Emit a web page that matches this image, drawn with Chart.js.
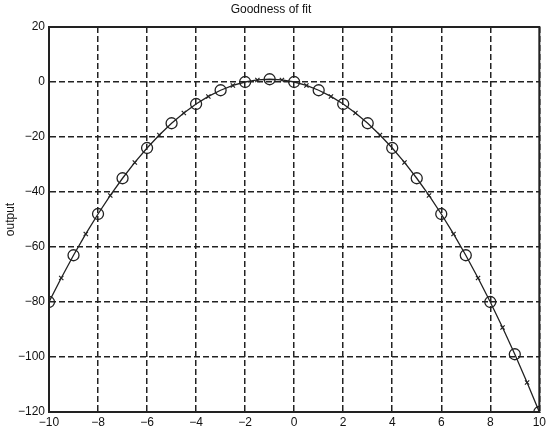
<!DOCTYPE html>
<html>
<head>
<meta charset="utf-8">
<script src="https://cdn.jsdelivr.net/npm/chart.js@4"></script>
<style>
  html, body { margin: 0; padding: 0; background: #fff; }
  #wrap { width: 549px; height: 432px; }
</style>
</head>
<body>
<div id="wrap"><canvas id="fitChart" width="549" height="432"></canvas></div>
<script>
// sample points (circles) at whole x
const xData = [-10, -9, -8, -7, -6, -5, -4, -3, -2, -1, 0, 1, 2, 3, 4, 5, 6, 7, 8, 9, 10];
const yData = [-80, -63, -48, -35, -24, -15, -8, -3, 0, 1, 0, -3, -8, -15, -24, -35, -48, -63, -80, -99, -120];

// fitted points (crosses) in between
const xFit = [-9.5, -8.5, -7.5, -6.5, -5.5, -4.5, -3.5, -2.5, -1.5, -0.5, 0.5, 1.5, 2.5, 3.5, 4.5, 5.5, 6.5, 7.5, 8.5, 9.5];
const yFit = [-71.25, -55.25, -41.25, -29.25, -19.25, -11.25, -5.25, -1.25, 0.75, 0.75, -1.25, -5.25, -11.25, -19.25, -29.25, -41.25, -55.25, -71.25, -89.25, -109.25];

const xTicks = [-10, -8, -6, -4, -2, 0, 2, 4, 6, 8, 10];
const yTicks = [-120, -100, -80, -60, -40, -20, 0, 20];

const dataPts = xData.map((x, i) => ({ x: x, y: yData[i] }));
const fitPts = xFit.map((x, i) => ({ x: x, y: yFit[i] }));
const linePts = dataPts.concat(fitPts).sort((a, b) => a.x - b.x);

const minus = v => String(v).replace('-', '\u2212');

const boxPlugin = {
  id: 'box',
  afterDatasetsDraw(chart) {
    const a = chart.chartArea, c = chart.ctx;
    c.save();
    c.strokeStyle = '#222';
    c.lineWidth = 2;
    c.strokeRect(a.left, a.top, a.right - a.left, a.bottom - a.top);
    c.restore();
  }
};

const ctx = document.getElementById('fitChart').getContext('2d');
const fitChart = new Chart(ctx, {
  type: 'scatter',
  data: {
    datasets: [
      {
        label: 'fit',
        data: linePts,
        showLine: true,
        borderColor: '#222',
        borderWidth: 1.3,
        pointRadius: 0,
        tension: 0
      },
      {
        label: 'data',
        data: dataPts,
        pointStyle: 'circle',
        pointRadius: 5.5,
        borderColor: '#222',
        borderWidth: 1.3,
        backgroundColor: 'rgba(0,0,0,0)'
      },
      {
        label: 'estimate',
        data: fitPts,
        pointStyle: 'crossRot',
        pointRadius: 3,
        borderColor: '#222',
        borderWidth: 1.2
      }
    ]
  },
  options: {
    responsive: false,
    animation: false,
    layout: { padding: { left: 0, right: 7, top: 0, bottom: 0 } },
    plugins: {
      legend: { display: false },
      tooltip: { enabled: false },
      title: {
        display: true,
        text: 'Goodness of fit',
        color: '#111',
        font: { family: 'Liberation Sans, Arial', size: 12, weight: 'normal' },
        padding: { top: 2, bottom: 10.6 }
      }
    },
    scales: {
      x: {
        type: 'linear',
        min: -10,
        max: 10,
        afterBuildTicks: s => { s.ticks = xTicks.map(v => ({ value: v })); },
        afterFit: s => { s.height = 20; },
        ticks: {
          color: '#111',
          padding: 3,
          maxRotation: 0,
          font: { family: 'Liberation Sans, Arial', size: 12 },
          callback: v => minus(v)
        },
        grid: { color: '#222', lineWidth: 1.5, drawTicks: false },
        border: { display: true, color: '#222', dash: [6, 3] }
      },
      y: {
        type: 'linear',
        min: -120,
        max: 20,
        afterBuildTicks: s => { s.ticks = yTicks.map(v => ({ value: v })); },
        afterFit: s => { s.width = 49; },
        title: {
          display: true,
          text: 'output',
          color: '#111',
          font: { family: 'Liberation Sans, Arial', size: 12 },
          padding: { top: 3, bottom: 0 }
        },
        ticks: {
          color: '#111',
          padding: 4,
          font: { family: 'Liberation Sans, Arial', size: 12 },
          callback: v => minus(v)
        },
        grid: { color: '#222', lineWidth: 1.5, drawTicks: false },
        border: { display: true, color: '#222', dash: [6, 3] }
      }
    }
  },
  plugins: [boxPlugin]
});
</script>
</body>
</html>
